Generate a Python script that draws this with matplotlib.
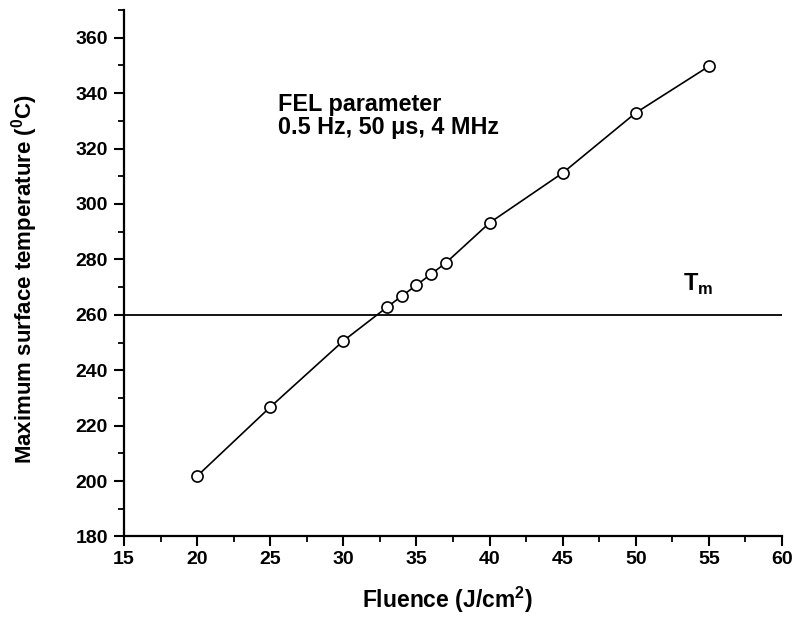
import matplotlib
matplotlib.use("Agg")
import matplotlib.pyplot as plt
from matplotlib.ticker import MultipleLocator

fluence = [20, 25, 30, 33, 34, 35, 36, 37, 40, 45, 50, 55]
temperature = [201.8, 226.7, 250.6, 262.8, 266.8, 270.7, 274.7, 278.7, 293.2, 311.2, 332.9, 349.7]
melting_temp = 260
x_ticks = [15, 20, 25, 30, 35, 40, 45, 50, 55, 60]
y_ticks = [180, 200, 220, 240, 260, 280, 300, 320, 340, 360]

plt.rcParams['font.family'] = ['Liberation Sans', 'DejaVu Sans']
plt.rcParams['mathtext.fontset'] = 'custom'
plt.rcParams['mathtext.rm'] = 'Liberation Sans'
plt.rcParams['mathtext.bf'] = 'Liberation Sans:bold'

fig = plt.figure(figsize=(7.97, 6.19), dpi=100)
ax = fig.add_axes([0.1556, 0.1333, 0.8256, 0.8505])

ax.axhline(melting_temp, color='black', lw=1.3)
ax.plot(fluence, temperature, color='black', lw=1.2, marker='o', markersize=8,
        markerfacecolor='white', markeredgecolor='black', markeredgewidth=1.2)

ax.set_xlim(15, 60)
ax.set_ylim(180, 370)
ax.set_xticks(x_ticks)
ax.set_yticks(y_ticks)
ax.xaxis.set_minor_locator(MultipleLocator(2.5))
ax.yaxis.set_minor_locator(MultipleLocator(10))

for s in ['top', 'right']:
    ax.spines[s].set_visible(False)
for s in ['left', 'bottom']:
    ax.spines[s].set_linewidth(1.6)

ax.tick_params(axis='both', which='major', direction='out', length=7.5, width=1.5,
               labelsize=14)
ax.tick_params(axis='x', which='major', pad=3)
ax.tick_params(axis='y', which='major', pad=4)
ax.tick_params(axis='both', which='minor', direction='out', length=4, width=1.3)
for lbl in ax.get_xticklabels() + ax.get_yticklabels():
    lbl.set_fontweight('bold')

ax.set_xlabel('Fluence (J/cm$^{\\mathbf{2}}$)', fontsize=16.5, fontweight='bold', labelpad=12)
ax.xaxis.label.set_x(0.4916)
ax.set_ylabel('Maximum surface temperature ($^{\\mathbf{0}}$C)', fontsize=16, fontweight='bold')
ax.yaxis.set_label_coords(-0.127, 0.490)

ax.text(25.5, 333.6, 'FEL parameter', fontsize=16.8, fontweight='bold', va='baseline', ha='left')
ax.text(25.5, 325.4, '0.5 Hz, 50 \u03bcs, 4 MHz', fontsize=16.8, fontweight='bold', va='baseline', ha='left')
ax.text(53.2, 268.8, 'T$_{\\mathbf{m}}$', fontsize=17, fontweight='bold', va='baseline', ha='left')

fig.savefig('out.png', dpi=100)
